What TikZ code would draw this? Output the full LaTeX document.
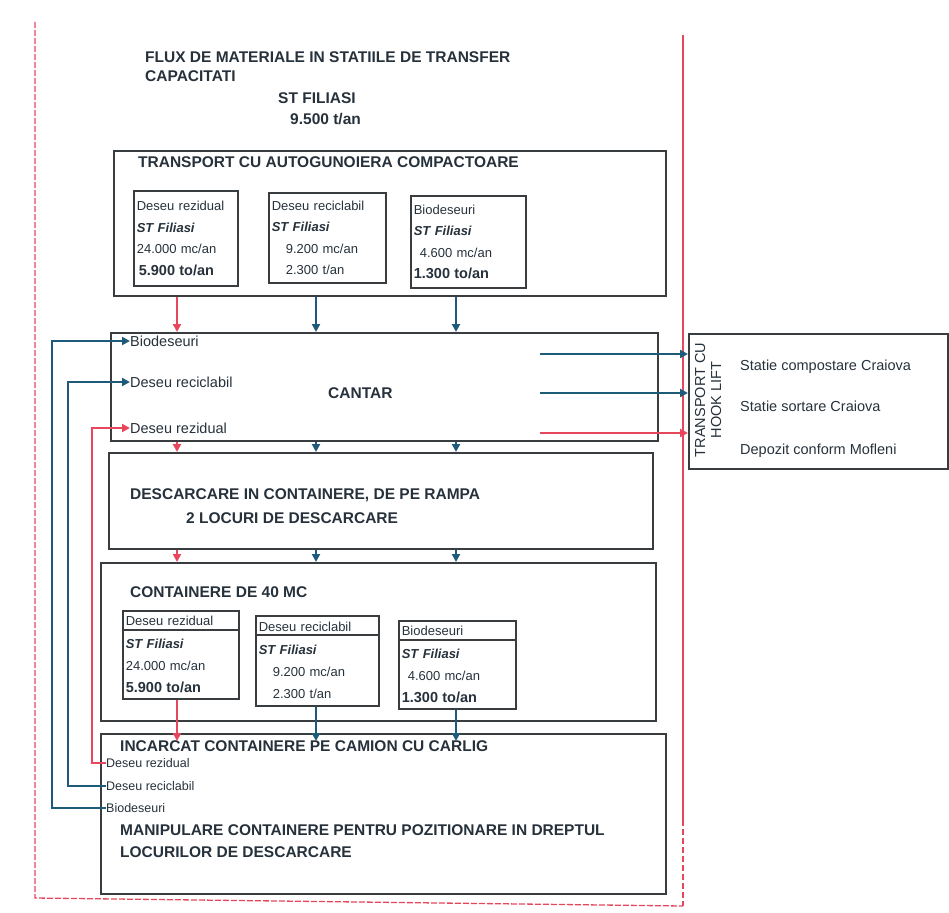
\documentclass[tikz,border=0pt]{standalone}
\usepackage{fontspec}
\setmainfont{Liberation Sans}
\usetikzlibrary{arrows.meta,calc}
\definecolor{ink}{HTML}{26313B}
\definecolor{frame}{HTML}{3A3D40}
\definecolor{flowblue}{HTML}{1E5A7A}
\definecolor{flowred}{HTML}{E8465C}
\tikzset{
  box/.style={draw=frame, line width=1.6pt, anchor=north west, inner sep=0pt},
  ibox/.style={draw=frame, line width=1.6pt, anchor=north west, align=left,
     inner sep=3pt, text=ink, font=\fontsize{13}{21.5}\selectfont},
  ttl/.style={anchor=west, text=ink, font=\bfseries\fontsize{15.5}{17}\selectfont, inner sep=0pt},
  lbl/.style={anchor=west, text=ink, font=\fontsize{14.5}{16}\selectfont, inner sep=0pt},
  slbl/.style={anchor=west, text=ink, font=\fontsize{12.5}{14}\selectfont, inner sep=0pt},
  bluearr/.style={draw=flowblue, line width=2.4pt, -{Triangle[length=8pt,width=8pt]}},
  redarr/.style={draw=flowred, line width=2.4pt, -{Triangle[length=8pt,width=8pt]}},
  border/.style={draw=flowred, line width=1.3pt},
}
\newcommand{\bignum}[1]{{\bfseries\fontsize{14.5}{21.5}\selectfont #1}}
\begin{document}
\begin{tikzpicture}[x=1pt,y=-1pt]
\useasboundingbox (0,0) rectangle (949,912);
% outer red frame
\coordinate (tl) at (35,22);
\coordinate (bl) at (35,898);
\coordinate (br) at (683,906);
\coordinate (tr) at (683,35);
\draw[border, dashed, dash pattern=on 6pt off 2pt] (tl) -- (bl) -- (br);
\draw[border, line width=2.2pt] (tr) -- (683,820);
\draw[border, line width=1.6pt, dashed, dash pattern=on 6pt off 3pt] (683,820) -- (br);
% titles
\node[ttl] (t1) at (145,57) {FLUX DE MATERIALE IN STATIILE DE TRANSFER};
\node[ttl] (t2) at (145,76) {CAPACITATI};
\node[ttl] (t3) at (278,98) {ST FILIASI};
\node[ttl] (t4) at (290,119) {9.500 t/an};
% transport box
\node[box, minimum width=552pt, minimum height=145pt] (trans) at (113,150) {};
\node[ttl] at (138,162) {TRANSPORT CU AUTOGUNOIERA COMPACTOARE};
\node[ibox, text width=98pt, minimum height=95pt] (ua) at (133,190)
  {Deseu rezidual\\ \textbf{\textit{ST Filiasi}}\\ 24.000 mc/an\\ \hspace*{2pt}\bignum{5.900 to/an}};
\node[ibox, text width=111pt, minimum height=90pt] (ub) at (268,192)
  {Deseu reciclabil\\ \textbf{\textit{ST Filiasi}}\\ \hspace*{14pt}9.200 mc/an\\ \hspace*{14pt}2.300 t/an};
\node[ibox, text width=109pt, minimum height=92pt] (uc) at (410,195)
  {Biodeseuri\\ \textbf{\textit{ST Filiasi}}\\ \hspace*{6pt}4.600 mc/an\\ \bignum{1.300 to/an}};
% cantar
\node[box, minimum width=547pt, minimum height=108pt] (cantar) at (110,332) {};
\node[ttl] (cantarlbl) at (328,393) {CANTAR};
\node[lbl] (lbio) at (130,341) {Biodeseuri};
\node[lbl] (lrec) at (130,382) {Deseu reciclabil};
\node[lbl] (lrez) at (130,428) {Deseu rezidual};
% hook lift
\node[box, minimum width=259pt, minimum height=135pt] (hook) at (688,333) {};
\node[anchor=center, rotate=90, align=center, text=ink, font=\fontsize{14.5}{16}\selectfont, inner sep=0pt] (hooklbl) at (708,400) {TRANSPORT CU\\ HOOK LIFT};
\node[lbl] (dcomp) at (740,367) {Statie compostare Craiova};
\node[lbl] (dsort) at (740,406) {Statie sortare Craiova};
\node[lbl] (ddep) at (740,451) {Depozit conform Mofleni};
\coordinate (s1) at (540,354);
\coordinate (s2) at (540,393);
\coordinate (s3) at (540,433);
\draw[bluearr] (s1) -- (s1 -| hook.west);
\draw[bluearr] (s2) -- (s2 -| hook.west);
\draw[redarr] (s3) -- (s3 -| hook.west);
% descarcare
\node[box, minimum width=544pt, minimum height=96pt] (desc) at (108,452) {};
\node[ttl] at (130,495) {DESCARCARE IN CONTAINERE, DE PE RAMPA};
\node[ttl] at (186,518) {2 LOCURI DE DESCARCARE};
% containere
\node[box, minimum width=555pt, minimum height=158pt] (cont) at (100,562) {};
\node[ttl] at (130,592) {CONTAINERE DE 40 MC};
\node[ibox, text width=110pt, minimum height=88pt, font=\fontsize{13}{22}\selectfont] (la) at (122,610)
  {Deseu rezidual\\[1pt] \textbf{\textit{ST Filiasi}}\\ 24.000 mc/an\\ \bignum{5.900 to/an}};
\node[ibox, text width=117pt, minimum height=90pt, font=\fontsize{13}{22}\selectfont] (lb) at (255,615)
  {Deseu reciclabil\\[1pt] \textbf{\textit{ST Filiasi}}\\ \hspace*{14pt}9.200 mc/an\\ \hspace*{14pt}2.300 t/an};
\node[ibox, text width=111pt, minimum height=88pt, font=\fontsize{13}{22}\selectfont] (lc) at (398,620)
  {Biodeseuri\\[1pt] \textbf{\textit{ST Filiasi}}\\ \hspace*{6pt}4.600 mc/an\\ \bignum{1.300 to/an}};
\draw[draw=frame, line width=1.6pt] ([yshift=-20pt]la.north west) -- ([yshift=-20pt]la.north east);
\draw[draw=frame, line width=1.6pt] ([yshift=-20pt]lb.north west) -- ([yshift=-20pt]lb.north east);
\draw[draw=frame, line width=1.6pt] ([yshift=-20pt]lc.north west) -- ([yshift=-20pt]lc.north east);
% incarcat
\node[box, minimum width=565pt, minimum height=160pt] (inc) at (100,733) {};
\node[ttl] at (120,746) {INCARCAT CONTAINERE PE CAMION CU CARLIG};
\node[slbl] (irez) at (106,763) {Deseu rezidual};
\node[slbl] (irec) at (106,786) {Deseu reciclabil};
\node[slbl] (ibio) at (106,808) {Biodeseuri};
\node[ttl] at (120,830) {MANIPULARE CONTAINERE PENTRU POZITIONARE IN DREPTUL};
\node[ttl] at (120,852) {LOCURILOR DE DESCARCARE};
% vertical flows
\coordinate (xr) at (177,0);
\coordinate (xm) at (316,0);
\coordinate (xb) at (456,0);
\draw[redarr] (xr |- trans.south) -- (xr |- cantar.north);
\draw[bluearr] (xm |- trans.south) -- (xm |- cantar.north);
\draw[bluearr] (xb |- trans.south) -- (xb |- cantar.north);
\draw[redarr] (xr |- cantar.south) -- (xr |- desc.north);
\draw[bluearr] (xm |- cantar.south) -- (xm |- desc.north);
\draw[bluearr] (xb |- cantar.south) -- (xb |- desc.north);
\draw[redarr] (xr |- desc.south) -- (xr |- cont.north);
\draw[bluearr] (xm |- desc.south) -- (xm |- cont.north);
\draw[bluearr] (xb |- desc.south) -- (xb |- cont.north);
\draw[redarr] (xr |- la.south) -- ([yshift=-8pt]xr |- inc.north);
\draw[bluearr] (xm |- lb.south) -- ([yshift=-8pt]xm |- inc.north);
\draw[bluearr] (xb |- lc.south) -- ([yshift=-8pt]xb |- inc.north);
% return loops
\coordinate (lx1) at (52,0);
\coordinate (lx2) at (68,0);
\coordinate (lx3) at (92,0);
\draw[bluearr] (ibio.west) -- (ibio.west -| lx1) |- (lbio.west);
\draw[bluearr] (irec.west) -- (irec.west -| lx2) |- (lrec.west);
\draw[redarr] (irez.west) -- (irez.west -| lx3) |- (lrez.west);
\end{tikzpicture}
\end{document}
